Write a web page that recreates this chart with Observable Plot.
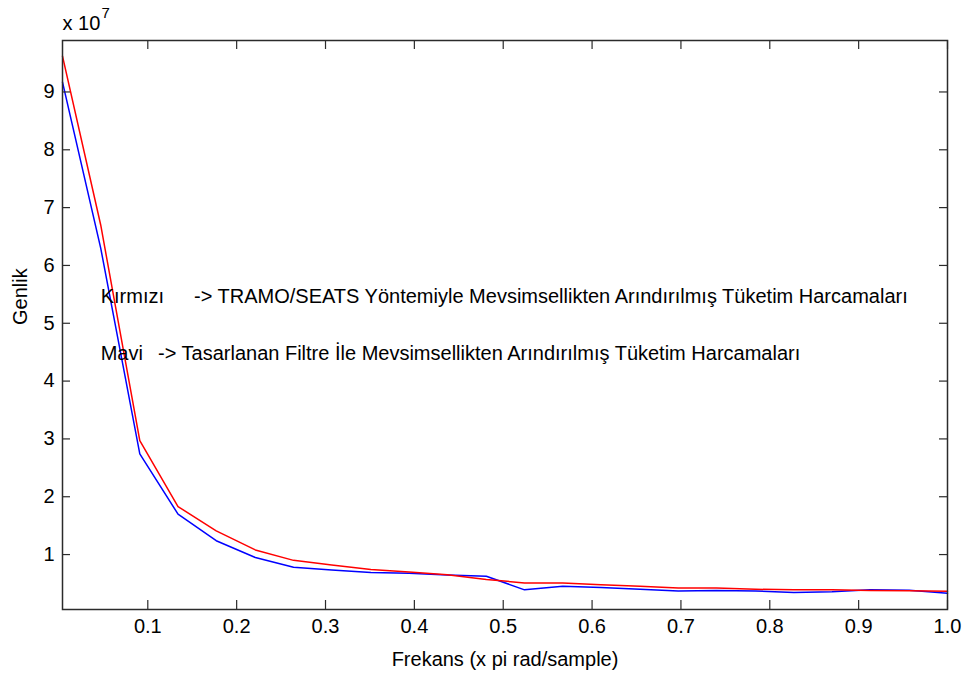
<!DOCTYPE html>
<html>
<head>
<meta charset="utf-8">
<script src="https://cdn.jsdelivr.net/npm/d3@7"></script>
<script src="https://cdn.jsdelivr.net/npm/@observablehq/plot@0.6"></script>
<style>
  html, body { margin: 0; padding: 0; background: #fff; }
  #chart svg { display: block; }
</style>
</head>
<body>
<div id="chart"></div>
<script>
// Frequency (x pi rad/sample)
const frekans = [0.004, 0.047, 0.091, 0.134, 0.177, 0.221, 0.264, 0.307, 0.351, 0.394, 0.437, 0.481,
                 0.524, 0.567, 0.610, 0.654, 0.697, 0.740, 0.784, 0.827, 0.870, 0.913, 0.957, 1.0];
// Amplitude, in units of 10^7
const kirmiziGenlik = [9.62, 6.70, 2.97, 1.83, 1.41, 1.08, 0.90, 0.82, 0.74, 0.70, 0.65, 0.57,
                       0.51, 0.51, 0.48, 0.45, 0.42, 0.42, 0.40, 0.39, 0.39, 0.38, 0.375, 0.365];
const maviGenlik = [9.17, 6.30, 2.74, 1.70, 1.24, 0.95, 0.78, 0.735, 0.69, 0.675, 0.645, 0.625,
                    0.39, 0.45, 0.43, 0.40, 0.37, 0.38, 0.37, 0.345, 0.355, 0.39, 0.385, 0.33];
const xTicks = [0.1, 0.2, 0.3, 0.4, 0.5, 0.6, 0.7, 0.8, 0.9, 1.0];
const yTicks = [1, 2, 3, 4, 5, 6, 7, 8, 9];
const xDomain = [0.004, 1.0];
const yDomain = [0.05, 9.89];

const notes = [
  {x: 0.047, y: 5.46, text: "Kırmızı"},
  {x: 0.152, y: 5.46, text: "-> TRAMO/SEATS Yöntemiyle Mevsimsellikten Arındırılmış Tüketim Harcamaları"},
  {x: 0.047, y: 4.48, text: "Mavi"},
  {x: 0.1115, y: 4.48, text: "-> Tasarlanan Filtre İle Mevsimsellikten Arındırılmış Tüketim Harcamaları"}
];

const red = frekans.map((f, i) => ({f, g: kirmiziGenlik[i]}));
const blue = frekans.map((f, i) => ({f, g: maviGenlik[i]}));

const W = 967, H = 677, mL = 62, mR = 20, mT = 40, mB = 68;
const innerH = H - mT - mB, innerW = W - mL - mR;
const axisColor = "#2b2b2b";
const font = "Liberation Sans, Arial, sans-serif";
const fs = 20;

const chart = Plot.plot({
  width: W, height: H,
  marginLeft: mL, marginRight: mR, marginTop: mT, marginBottom: mB,
  style: {fontFamily: font, fontSize: fs + "px", color: "#000", background: "#fff"},
  x: {domain: xDomain, ticks: xTicks},
  y: {domain: yDomain, ticks: yTicks},
  marks: [
    Plot.line(blue, {x: "f", y: "g", stroke: "#0000ff", strokeWidth: 1.5}),
    Plot.line(red, {x: "f", y: "g", stroke: "#ff0000", strokeWidth: 1.5}),
    Plot.text(notes, {x: "x", y: "y", text: "text", textAnchor: "start", fontSize: fs, fill: "#000"}),
    // inward ticks on all four sides
    Plot.tickX(xTicks, {x: d => d, insetTop: innerH - 9, stroke: axisColor, strokeWidth: 1.2}),
    Plot.tickX(xTicks, {x: d => d, insetBottom: innerH - 9, stroke: axisColor, strokeWidth: 1.2}),
    Plot.tickY(yTicks, {y: d => d, insetRight: innerW - 8, stroke: axisColor, strokeWidth: 1.2}),
    Plot.tickY(yTicks, {y: d => d, insetLeft: innerW - 8, stroke: axisColor, strokeWidth: 1.2}),
    Plot.frame({stroke: axisColor, strokeWidth: 1.5}),
    Plot.axisX(xTicks, {tickSize: 0, tickPadding: 9, fontSize: fs, tickFormat: d => d.toFixed(1), label: null}),
    Plot.axisY(yTicks, {tickSize: 0, tickPadding: 8, fontSize: fs, tickFormat: d => String(d), label: null}),
    Plot.text(["Frekans (x pi rad/sample)"], {frameAnchor: "bottom", lineAnchor: "middle", dy: 50, fontSize: fs, fill: "#000"}),
    Plot.text(["Genlik"], {frameAnchor: "left", dx: -42, rotate: -90, fontSize: fs, fill: "#000"}),
    Plot.text(["x 10"], {frameAnchor: "top-left", lineAnchor: "middle", dy: -17, textAnchor: "start", fontSize: fs, fill: "#000"}),
    Plot.text(["7"], {frameAnchor: "top-left", lineAnchor: "middle", dx: 39, dy: -27, textAnchor: "start", fontSize: 15, fill: "#000"})
  ]
});
document.getElementById("chart").appendChild(chart);
</script>
</body>
</html>
